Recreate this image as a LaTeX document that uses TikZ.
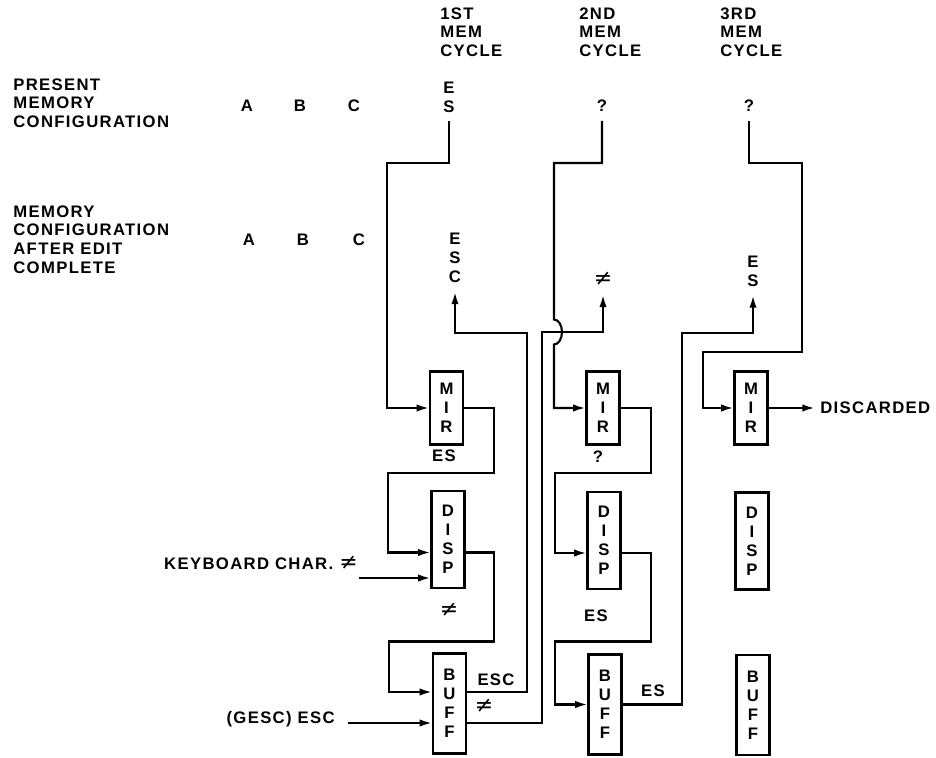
\documentclass[tikz,border=0pt]{standalone}
\usepackage{fontspec}
\setmainfont{Liberation Sans}[LetterSpace=8]
\newfontfamily\symfont{DejaVu Sans}
\usetikzlibrary{arrows.meta,calc}
\newcommand{\neqsym}{{\symfont\mdseries\fontsize{12.5}{12.5}\selectfont ≠}}

\begin{document}
\begin{tikzpicture}[x=0.02cm, y=0.02cm,
  every node/.style={font=\fontsize{9.5}{10.8}\selectfont\bfseries, inner sep=0pt},
  reg/.style    ={draw, line width=1.2pt, minimum width=0.66cm, align=center},
  mirbox/.style ={reg, minimum height=1.46cm},
  dispbox/.style={reg, minimum height=1.94cm},
  buffbox/.style={reg, minimum height=2.0cm},
  memc/.style   ={align=center, inner ysep=5pt},
  txt/.style    ={align=left},
  wire/.style   ={line width=1.2pt},
  arr/.style    ={wire, -{Latex[length=7pt,width=4.2pt]}}]

\useasboundingbox (0,0) rectangle (936,-757);

%% -- column headings -----------------------------------------------
\node[txt, anchor=north west] (cyc1) at (440,-7) {1ST\\MEM\\CYCLE};
\node[txt, anchor=north west] (cyc2) at (579,-7) {2ND\\MEM\\CYCLE};
\node[txt, anchor=north west] (cyc3) at (720,-7) {3RD\\MEM\\CYCLE};

%% -- row labels ----------------------------------------------------
\node[txt, anchor=north west] (lpres) at (13,-78)  {PRESENT\\MEMORY\\CONFIGURATION};
\node[txt, anchor=north west] (laft)  at (13,-205) {MEMORY\\CONFIGURATION\\AFTER EDIT\\COMPLETE};

%% -- present memory ------------------------------------------------
\node[anchor=base] (pa) at (247,-112) {A};
\node[anchor=base] (pb) at (300,-112) {B};
\node[anchor=base] (pc) at (354,-112) {C};
\node[memc] (pres1) at (449,-97)  {E\\S};
\node[memc] (pres2) at (602,-106) {?};
\node[memc] (pres3) at (749,-106) {?};

%% -- memory after edit ---------------------------------------------
\node[anchor=base] (aa) at (249,-245) {A};
\node[anchor=base] (ab) at (303,-245) {B};
\node[anchor=base] (ac) at (359,-245) {C};
\node[memc] (aft1) at (455,-258) {E\\S\\C};
\node[memc] (aft2) at (603,-279) {\neqsym};
\node[memc] (aft3) at (753,-271) {E\\S};

%% -- registers -----------------------------------------------------
\node[mirbox]  (mir1)  at (446.5,-408)  {M\\I\\R};
\node[dispbox] (disp1) at (448,-539.5)  {D\\I\\S\\P};
\node[buffbox] (buff1) at (449.5,-703.5){B\\U\\F\\F};
\node[mirbox]  (mir2)  at (603,-408)    {M\\I\\R};
\node[dispbox] (disp2) at (604,-540.5)  {D\\I\\S\\P};
\node[buffbox] (buff2) at (605,-704.5)  {B\\U\\F\\F};
\node[mirbox]  (mir3)  at (751,-408)    {M\\I\\R};
\node[dispbox] (disp3) at (752,-541)    {D\\I\\S\\P};
\node[buffbox] (buff3) at (753,-705)    {B\\U\\F\\F};

%% -- wire labels and inputs ----------------------------------------
\node (es1)  at (444,-456) {ES};
\node (ne1)  at (449,-610) {\neqsym};
\node (q2)   at (598,-457) {?};
\node (es2)  at (596,-616) {ES};
\node (esc)  at (496,-680) {ESC};
\node (ne2)  at (484,-706) {\neqsym};
\node (es3)  at (653,-691) {ES};
\node[anchor=east] (kbd)  at (358,-563) {KEYBOARD CHAR. \neqsym};
\node[anchor=east] (gesc) at (335,-719) {(GESC) ESC};
\node[anchor=west] (disc) at (820,-408) {DISCARDED};

%% -- bend points ---------------------------------------------------
\coordinate (t1)  at (387,-163);
\coordinate (t2)  at (554,-163);
\coordinate (t3)  at (802,-163);
\coordinate (t3b) at (703,-352);
\coordinate (w1)  at (527,-333);
\coordinate (w2)  at (542,-332);
\coordinate (w3)  at (682,-333);
\coordinate (hop) at (w2 -| t2);
\coordinate (kin) at ($(disp1.south west)+(0,11)$);
\coordinate (gin) at ($(buff1.west)+(0,-19.5)$);

%% -- 1st cycle -----------------------------------------------------
\draw[arr] (pres1.south) |- (t1) |- (mir1.west);
\draw[arr] (mir1.east) -- ++(30,0) -- ++(0,-65) -- ++(-106,0) |- ($(disp1.west)+(0,-13)$);
\draw[arr] (kbd.south east |- kin) ++(1,0) -- (kin);
\draw[arr] ($(disp1.east)+(0,-13)$) -- ++(28,0) -- ++(0,-89) -- ++(-105,0) |- ($(buff1.west)+(0,11.5)$);
\draw[arr] ($(gesc.east |- gin)+(13,0)$) -- (gin);
\draw[arr] ($(buff1.east)+(0,11.5)$) -| (w1) -| (aft1.south);
\draw[arr] ($(buff1.east)+(0,-19.5)$) -| (w2) -| (aft2.south);

%% -- 2nd cycle -----------------------------------------------------
\draw[arr] (pres2.south) |- (t2) -- ($(hop)+(0,12.5)$)
           arc[start angle=90, end angle=-90, x radius=0.16cm, y radius=0.25cm] |- (mir2.west);
\draw[arr] (mir2.east) -- ++(30,0) -- ++(0,-65) -- ++(-96,0) |- ($(disp2.west)+(0,-12.5)$);
\draw[arr] ($(disp2.east)+(0,-12.5)$) -- ++(29,0) -- ++(0,-88.5) -- ++(-96,0) |- (buff2.west);
\draw[arr] (buff2.east) -| (w3) -| (aft3.south);

%% -- 3rd cycle -----------------------------------------------------
\draw[arr] (pres3.south) |- (t3) |- (t3b) |- (mir3.west);
\draw[arr, shorten >=3pt] (mir3.east) -- (disc.west);
\end{tikzpicture}
\end{document}
